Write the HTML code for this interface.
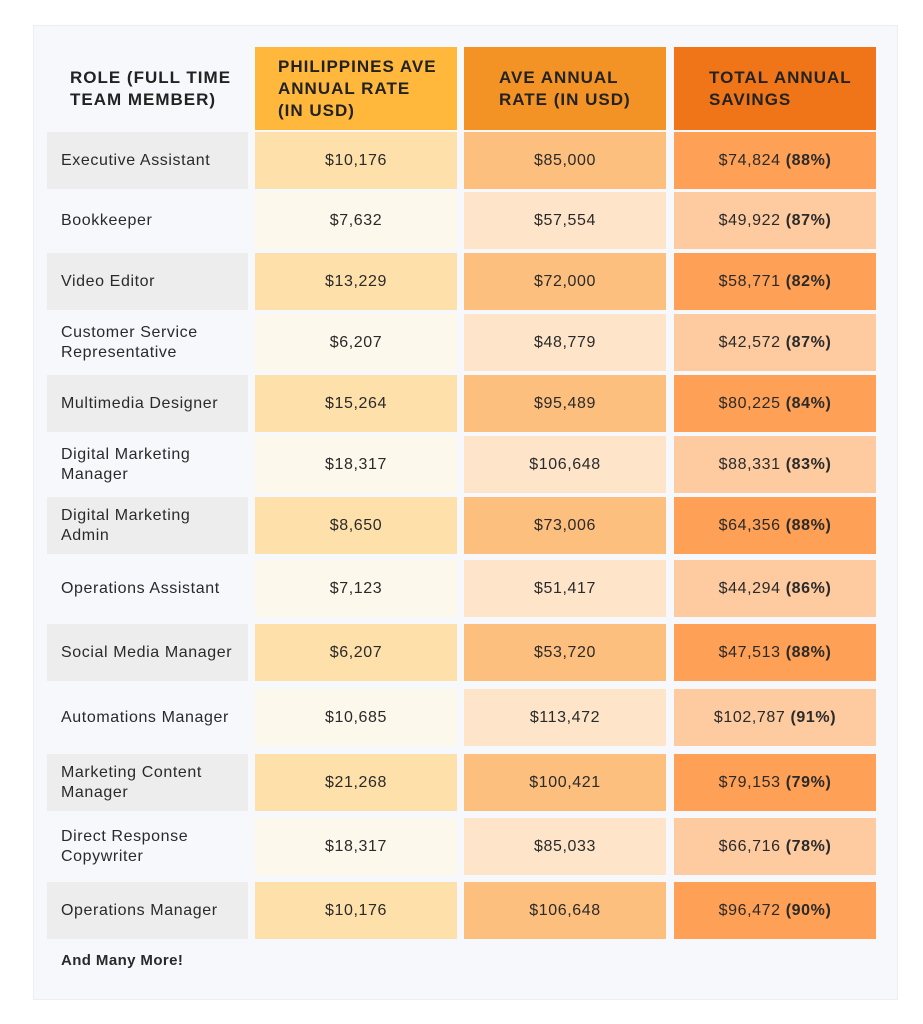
<!DOCTYPE html>
<html><head><style>
body{margin:0;background:#fff;width:923px;height:1024px;position:relative;font-family:"Liberation Sans",sans-serif;color:#2a2a2a}
.box{position:absolute;left:33px;top:25px;width:865px;height:975px;background:#f7f8fc;border:1px solid #eceef3;box-sizing:border-box}
.c{position:absolute;display:flex;align-items:center;justify-content:center;font-size:16px;letter-spacing:0.6px;box-sizing:border-box}
.h{font-weight:bold;font-size:17px;letter-spacing:1px;line-height:22px;justify-content:flex-start;padding-left:23px;color:#222}
.r{justify-content:flex-start;padding-left:14px;line-height:20px}
b{font-weight:bold}
</style></head><body>
<div class="box"></div>
<div class="c h" style="left:50px;top:47px;width:201px;height:83px;justify-content:center;padding-left:0">ROLE (FULL TIME<br>TEAM MEMBER)</div>
<div class="c h" style="left:255px;top:47px;width:202px;height:83px;background:#ffb73c">PHILIPPINES AVE<br>ANNUAL RATE<br>(IN USD)</div>
<div class="c h" style="left:464px;top:47px;width:202px;height:83px;background:#f39325;padding-left:35px">AVE ANNUAL<br>RATE (IN USD)</div>
<div class="c h" style="left:674px;top:47px;width:202px;height:83px;background:#f07518;padding-left:35px">TOTAL ANNUAL<br>SAVINGS</div>
<div id="rows"></div>
<div style="position:absolute;left:61px;top:952px;font-weight:bold;font-size:15px;letter-spacing:0.4px">And Many More!</div>
<script>
var d=[["Executive Assistant","$10,176","$85,000","$74,824","88%",160],
["Bookkeeper","$7,632","$57,554","$49,922","87%",220],
["Video Editor","$13,229","$72,000","$58,771","82%",281],
["Customer Service<br>Representative","$6,207","$48,779","$42,572","87%",342],
["Multimedia Designer","$15,264","$95,489","$80,225","84%",403],
["Digital Marketing<br>Manager","$18,317","$106,648","$88,331","83%",464],
["Digital Marketing<br>Admin","$8,650","$73,006","$64,356","88%",525],
["Operations Assistant","$7,123","$51,417","$44,294","86%",588],
["Social Media Manager","$6,207","$53,720","$47,513","88%",652],
["Automations Manager","$10,685","$113,472","$102,787","91%",717],
["Marketing Content<br>Manager","$21,268","$100,421","$79,153","79%",782],
["Direct Response<br>Copywriter","$18,317","$85,033","$66,716","78%",846],
["Operations Manager","$10,176","$106,648","$96,472","90%",910]];
var h="";d.forEach(function(r,i){var t=r[5]-28,o=i%2==0;
var c=o?["#ededed","#fee0aa","#fdbf7d","#fea055"]:["transparent","#fdf8ec","#fee5c9","#fecba0"];
h+='<div class="c r" style="left:47px;top:'+t+'px;width:201px;height:57px;background:'+c[0]+'">'+r[0]+'</div>';
h+='<div class="c" style="left:255px;top:'+t+'px;width:202px;height:57px;background:'+c[1]+'">'+r[1]+'</div>';
h+='<div class="c" style="left:464px;top:'+t+'px;width:202px;height:57px;background:'+c[2]+'">'+r[2]+'</div>';
h+='<div class="c" style="left:674px;top:'+t+'px;width:202px;height:57px;background:'+c[3]+'">'+r[3]+'&nbsp;<b>('+r[4]+')</b></div>';});
document.getElementById("rows").innerHTML=h;
</script>
</body></html>
